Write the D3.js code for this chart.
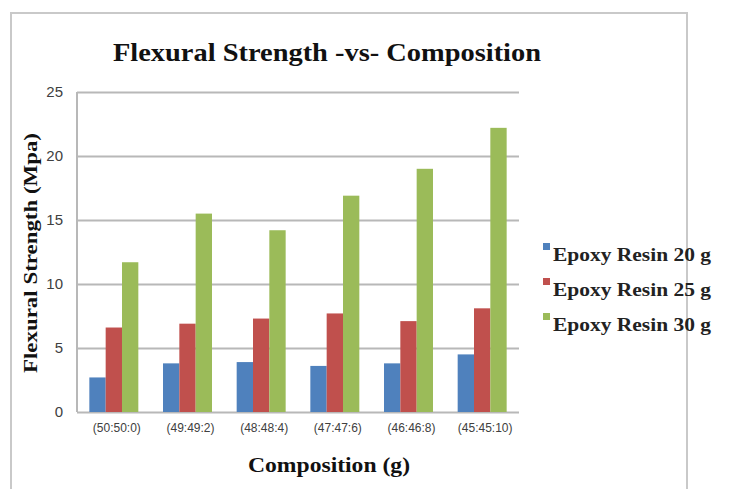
<!DOCTYPE html>
<html>
<head>
<meta charset="utf-8">
<script src="https://cdn.jsdelivr.net/npm/d3@7"></script>
<style>
  html, body { margin: 0; padding: 0; background: #fff; }
  svg { display: block; }
</style>
</head>
<body>
<svg id="chart" width="742" height="489"></svg>
<script>
// Flexural strength (MPa) for each composition and epoxy resin amount
const categories = ["(50:50:0)", "(49:49:2)", "(48:48:4)", "(47:47:6)", "(46:46:8)", "(45:45:10)"];
const seriesNames = ["Epoxy Resin 20 g", "Epoxy Resin 25 g", "Epoxy Resin 30 g"];
const resin20 = [2.7, 3.8, 3.9, 3.6, 3.8, 4.5];
const resin25 = [6.6, 6.9, 7.3, 7.7, 7.1, 8.1];
const resin30 = [11.7, 15.5, 14.2, 16.9, 19.0, 22.2];
const yTicks = [0, 5, 10, 15, 20, 25];
const colors = ["#4F81BD", "#C0504D", "#9BBB59"];

const seriesValues = [resin20, resin25, resin30];
const rows = categories.map((c, i) => ({
  category: c,
  values: seriesNames.map((s, j) => ({ series: s, value: seriesValues[j][i] }))
}));

const svg = d3.select("#chart");

// outer chart frame
svg.append("path")
  .attr("d", "M11,489 L11,13 L687,13 L687,489")
  .attr("fill", "none")
  .attr("stroke", "#c9c9c9")
  .attr("stroke-width", 2);

const plot = { left: 77, right: 519, top: 92, bottom: 412 };

const y = d3.scaleLinear().domain([0, 25]).range([plot.bottom, plot.top]);
const pad = 0.335;
const x0 = d3.scaleBand().domain(categories).range([plot.left, plot.right])
  .paddingInner(pad).paddingOuter(pad / 2);
const x1 = d3.scaleBand().domain(seriesNames).range([0, x0.bandwidth()]);

// horizontal gridlines
const grid = svg.append("g")
  .attr("transform", `translate(${plot.left},0)`)
  .call(d3.axisLeft(y).tickValues(yTicks).tickSize(-(plot.right - plot.left)).tickFormat(""));
grid.select(".domain").remove();
grid.selectAll(".tick line").attr("stroke", "#b8b8b8").attr("stroke-width", 2);

// vertical axis line
svg.append("line")
  .attr("x1", plot.left).attr("x2", plot.left)
  .attr("y1", plot.top).attr("y2", plot.bottom)
  .attr("stroke", "#b8b8b8").attr("stroke-width", 2);

// bars
svg.append("g").selectAll("g")
  .data(rows)
  .join("g")
  .attr("transform", d => `translate(${x0(d.category)},0)`)
  .selectAll("rect")
  .data(d => d.values)
  .join("rect")
  .attr("x", d => x1(d.series))
  .attr("width", x1.bandwidth())
  .attr("y", d => y(d.value))
  .attr("height", d => y(0) - y(d.value))
  .attr("fill", (d, i) => colors[i]);

// y axis labels
const yAxis = svg.append("g")
  .attr("transform", `translate(${plot.left - 14},0)`)
  .call(d3.axisLeft(y).tickValues(yTicks).tickSize(0).tickPadding(0));
yAxis.select(".domain").remove();
yAxis.selectAll("text")
  .attr("font-family", "'Liberation Sans Narrow', 'Liberation Sans', sans-serif")
  .attr("font-size", 15)
  .attr("fill", "#404040");

// x axis labels
const xAxis = svg.append("g")
  .attr("transform", `translate(0,${plot.bottom})`)
  .call(d3.axisBottom(x0).tickSize(0).tickPadding(11));
xAxis.select(".domain").remove();
xAxis.selectAll("text")
  .attr("dx", 3)
  .attr("font-family", "'Liberation Sans Narrow', 'Liberation Sans', sans-serif")
  .attr("font-size", 12)
  .attr("fill", "#404040");

// titles
svg.append("text")
  .attr("x", 327).attr("y", 61)
  .attr("text-anchor", "middle")
  .attr("font-family", "'Liberation Serif', serif")
  .attr("font-weight", "bold")
  .attr("font-size", 26)
  .attr("textLength", 428)
  .attr("lengthAdjust", "spacingAndGlyphs")
  .attr("fill", "#111")
  .text("Flexural Strength -vs- Composition");

svg.append("text")
  .attr("transform", "translate(37,253) rotate(-90)")
  .attr("text-anchor", "middle")
  .attr("font-family", "'Liberation Serif', serif")
  .attr("font-weight", "bold")
  .attr("font-size", 19)
  .attr("textLength", 240)
  .attr("lengthAdjust", "spacingAndGlyphs")
  .attr("fill", "#111")
  .text("Flexural Strength (Mpa)");

svg.append("text")
  .attr("x", 329).attr("y", 472)
  .attr("text-anchor", "middle")
  .attr("font-family", "'Liberation Serif', serif")
  .attr("font-weight", "bold")
  .attr("font-size", 20)
  .attr("textLength", 162)
  .attr("lengthAdjust", "spacingAndGlyphs")
  .attr("fill", "#111")
  .text("Composition (g)");

// legend
const legend = svg.append("g").attr("transform", "translate(543,243)");
const items = legend.selectAll("g")
  .data(seriesNames)
  .join("g")
  .attr("transform", (d, i) => `translate(0,${i * 35})`);
items.append("rect")
  .attr("width", 7).attr("height", 7)
  .attr("fill", (d, i) => colors[i]);
items.append("text")
  .attr("x", 10).attr("y", 18)
  .attr("font-family", "'Liberation Serif', serif")
  .attr("font-weight", "bold")
  .attr("font-size", 18)
  .attr("textLength", 158)
  .attr("lengthAdjust", "spacingAndGlyphs")
  .attr("fill", "#222")
  .text(d => d);
</script>
</body>
</html>
